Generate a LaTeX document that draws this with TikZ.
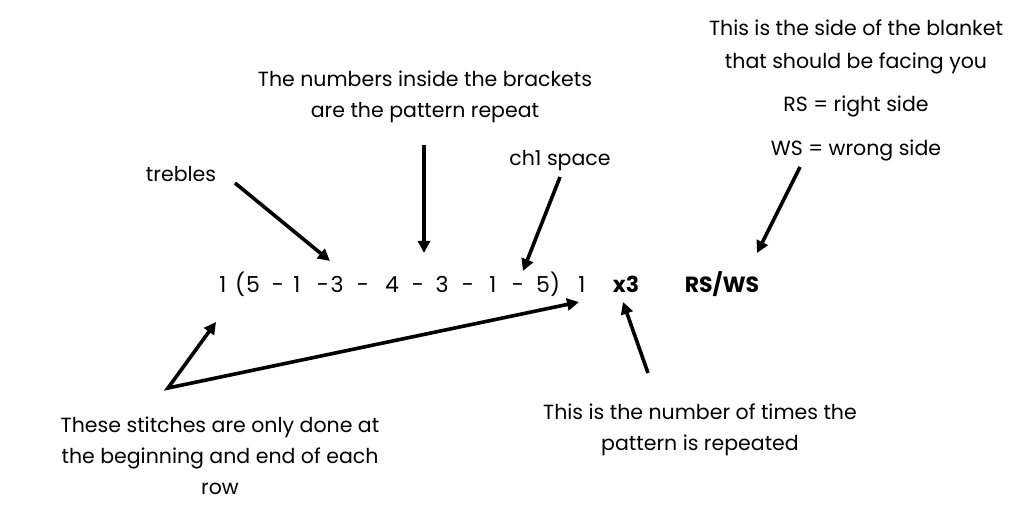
\documentclass[tikz,border=0pt]{standalone}
\usepackage{fontspec}
\setmainfont{Poppins}
\usetikzlibrary{arrows.meta}
\tikzset{
  lbl/.style={inner sep=0pt, align=center, font=\fontsize{20.5}{31}\selectfont},
  lblw/.style={lbl, font=\fontsize{20.5}{33}\selectfont},
  tok/.style={inner sep=0pt, anchor=base, font=\fontsize{22}{25}\selectfont},
  bld/.style={inner sep=0pt, anchor=base, font=\fontsize{22}{25}\selectfont\bfseries},
  arr/.style={line width=3.6pt, -{Triangle[length=12pt,width=12pt]}},
  arrb/.style={line width=3.6pt, {Triangle[length=12pt,width=12pt]}-{Triangle[length=12pt,width=12pt]}, line join=miter}
}
\begin{document}
\begin{tikzpicture}[x=1pt,y=-1pt]
\useasboundingbox[fill=white] (0,0) rectangle (1024,510);
% main row tokens
\foreach \x/\t [count=\i] in {223/1,240/(,253/5,278/-,297/1,323/-,337/3,363/-,392/4,418/-,442/3,468/-,493/1,518/-,543/5,555/),582/1}
  \node[tok] (r\i) at (\x,293) {\t};
\node[bld] (x3) at (626,293) {x3};
\node[bld] (rsws) at (722,293) {RS/WS};
% labels
\node[lbl] (brk) at (425,97) {The numbers inside the brackets\\are the pattern repeat};
\node[lbl] (treb) at (181,174) {trebles};
\node[lbl] (ch) at (560,161) {ch1 space};
\node[lblw] (side) at (856,47) {This is the side of the blanket\\that should be facing you};
\node[lbl] (rs) at (856,106) {RS = right side};
\node[lbl] (ws) at (856,150) {WS = wrong side};
\node[lbl] (ends) at (220,456) {These stitches are only done at\\the beginning and end of each\\row};
\node[lbl] (times) at (700,430) {This is the number of times the\\pattern is repeated};
% arrow ends
\coordinate (a1s) at (235,183); \coordinate (a1e) at (330,261);
\coordinate (a2s) at (424,145); \coordinate (a2e) at (424,253);
\coordinate (a3s) at (560,177); \coordinate (a3e) at (523,271);
\coordinate (a4s) at (800,167); \coordinate (a4e) at (757,253);
\coordinate (v) at (168,388); \coordinate (a5l) at (216,322); \coordinate (a5r) at (579,302);
\coordinate (a6s) at (648,373); \coordinate (a6e) at (623,302);
\draw[arr] (a1s) -- (a1e);
\draw[arr] (a2s) -- (a2e);
\draw[arr] (a3s) -- (a3e);
\draw[arr] (a4s) -- (a4e);
\draw[arrb] (a5l) -- (v) -- (a5r);
\draw[arr] (a6s) -- (a6e);
\end{tikzpicture}
\end{document}
